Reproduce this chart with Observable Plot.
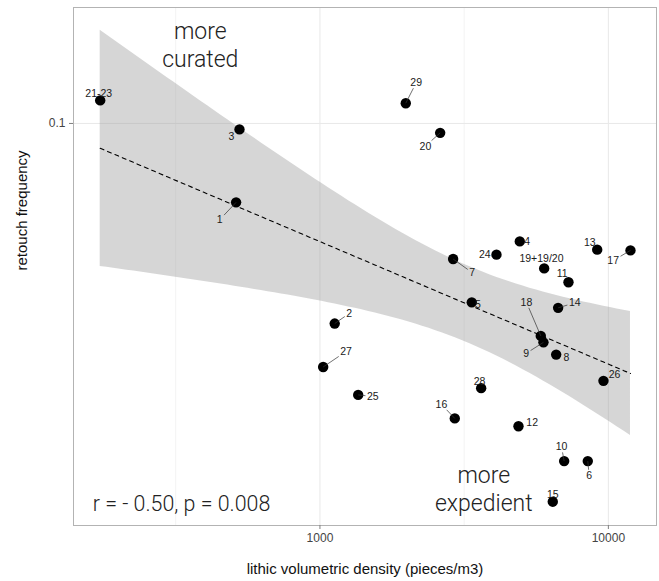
<!DOCTYPE html>
<html><head><meta charset="utf-8">
<script src="https://cdn.jsdelivr.net/npm/d3@7"></script>
<script src="https://cdn.jsdelivr.net/npm/@observablehq/plot@0.6"></script>
<style>body{margin:0;background:#fff} svg{display:block}</style>
</head><body><div id="chart"></div>
<script>
// ---- data ----
const siteLabels = ["21-23","3","1","29","20","2","27","25","4","24","7","13","17","19+19/20","11","5","14","18","9","8","26","28","16","12","10","6","15"];
const density = [173, 526, 512, 1984, 2611, 1125, 1026, 1357, 4930, 4093, 2896, 9147, 11930, 5990, 7272, 3360, 6696, 5830, 5956, 6592, 9616, 3622, 2934, 4879, 7026, 8484, 6416];
const retouch = [0.1117, 0.0972, 0.0685, 0.1102, 0.0956, 0.0383, 0.0311, 0.0272, 0.0568, 0.0533, 0.0522, 0.0546, 0.0544, 0.0499, 0.0467, 0.0424, 0.0413, 0.0361, 0.0350, 0.0330, 0.0291, 0.0281, 0.0243, 0.0234, 0.0198, 0.0198, 0.0163];
// repelled label anchor positions (data units)
const labelDensity = [171, 493, 449, 2156, 2321, 1263, 1232, 1525, 5228, 3727, 3371, 8620, 10390, 5862, 6918, 3526, 7645, 5200, 5188, 7156, 10500, 3574, 2638, 5442, 6880, 8578, 6416];
const labelRetouch = [0.1153, 0.0939, 0.0630, 0.1216, 0.0897, 0.0402, 0.0335, 0.0270, 0.0568, 0.0533, 0.0489, 0.0566, 0.0518, 0.0523, 0.0486, 0.0420, 0.0423, 0.0424, 0.0332, 0.0326, 0.0300, 0.0290, 0.0260, 0.0238, 0.0212, 0.0185, 0.0169];
const xTicks = [1000, 10000];
const xMinorGrid = [316.2, 3162];
const yTicks = [0.1];
const annotations = [
  {text: "more\ncurated", x: 384.6, y: 0.1463},
  {text: "more\nexpedient", x: 3698, y: 0.01739}
];
const statText = {text: "r = - 0.50, p = 0.008", x: 163, y: 0.01611};
const xTitle = "lithic volumetric density (pieces/m3)";
const yTitle = "retouch frequency";

// ---- layout ----
const W = 659, H = 581, ML = 73, MR = 3, MT = 7, MB = 56;
const xDomain = [139.8, 14685], yDomain = [0.01454, 0.1744];
const FONT = "'Liberation Sans', Arial, Helvetica, sans-serif";
const LIGHT = "Roboto, 'Liberation Sans', sans-serif";

const points = siteLabels.map((label, i) => ({label, x: density[i], y: retouch[i], lx: labelDensity[i], ly: labelRetouch[i]}));

// ---- linear fit in log-log space with 95% CI (as geom_smooth(method = "lm")) ----
const LX = density.map(Math.log10), LY = retouch.map(Math.log10);
const n = LX.length;
const mx = d3.mean(LX), my = d3.mean(LY);
const Sxx = d3.sum(LX, v => (v - mx) ** 2);
const Sxy = d3.sum(LX.map((v, i) => (v - mx) * (LY[i] - my)));
const slope = Sxy / Sxx, intercept = my - slope * mx;
const sse = d3.sum(LX.map((v, i) => (LY[i] - (intercept + slope * v)) ** 2));
const se = Math.sqrt(sse / (n - 2));
const tq = 2.0595; // qt(0.975, 25)
const [x0, x1] = d3.extent(LX);
const fit = d3.range(80).map(k => {
  const xv = x0 + (x1 - x0) * k / 79;
  const yv = intercept + slope * xv;
  const h = tq * se * Math.sqrt(1 / n + (xv - mx) ** 2 / Sxx);
  return {x: 10 ** xv, y: 10 ** yv, lo: 10 ** (yv - h), hi: 10 ** (yv + h)};
});

// ---- label leader segments (from point to label box edge) ----
const xs = Plot.scale({x: {type: "log", domain: xDomain, range: [ML, W - MR]}});
const ys = Plot.scale({y: {type: "log", domain: yDomain, range: [H - MB, MT]}});
const LFS = 10.5;
const segs = [];
points.forEach(p => {
  const px = xs.apply(p.x), py = ys.apply(p.y);
  const qx = xs.apply(p.lx), qy = ys.apply(p.ly);
  const vx = px - qx, vy = py - qy;
  const hw = p.label.length * 0.556 * LFS / 2 + 1.5, hh = 5.5;
  const s = Math.min(vx ? hw / Math.abs(vx) : Infinity, vy ? hh / Math.abs(vy) : Infinity);
  if (s >= 1) return;
  const ex = qx + vx * s, ey = qy + vy * s;
  if (Math.hypot(px - ex, py - ey) < 7) return;
  segs.push({x1: p.x, y1: p.y, x2: xs.invert(ex), y2: ys.invert(ey)});
});

const chart = Plot.plot({
  width: W, height: H,
  marginLeft: ML, marginRight: MR, marginTop: MT, marginBottom: MB,
  style: {fontFamily: FONT, background: "#fff", overflow: "visible"},
  x: {type: "log", domain: xDomain},
  y: {type: "log", domain: yDomain},
  marks: [
    Plot.gridX(xMinorGrid, {stroke: "#f3f3f3", strokeOpacity: 1, strokeWidth: 1}),
    Plot.gridX(xTicks, {stroke: "#e8e8e8", strokeOpacity: 1, strokeWidth: 1}),
    Plot.gridY(yTicks, {stroke: "#e8e8e8", strokeOpacity: 1, strokeWidth: 1}),
    Plot.areaY(fit, {x: "x", y1: "lo", y2: "hi", fill: "#999999", fillOpacity: 0.4}),
    Plot.line(fit, {x: "x", y: "y", stroke: "#000", strokeWidth: 1.1, strokeDasharray: "4,4"}),
    Plot.dot(points, {x: "x", y: "y", r: 5.2, fill: "#000", stroke: null}),
    Plot.link(segs, {x1: "x1", y1: "y1", x2: "x2", y2: "y2", stroke: "#333", strokeWidth: 0.7}),
    Plot.text(points, {x: "lx", y: "ly", text: "label", fontSize: LFS, fill: "#1a1a1a"}),
    Plot.text(annotations, {x: "x", y: "y", text: "text", fontSize: 23, lineHeight: 1.2, fill: "#222", lineAnchor: "middle", fontFamily: LIGHT, fontWeight: 300}),
    Plot.text([statText], {x: "x", y: "y", text: "text", fontSize: 21.4, fill: "#222", textAnchor: "start", lineAnchor: "middle", fontFamily: LIGHT, fontWeight: 300}),
    Plot.frame({stroke: "#b3b3b3", strokeWidth: 1}),
    Plot.axisX({ticks: xTicks, tickFormat: d => String(d), tickSize: 4, tickPadding: 4, stroke: "#7f7f7f", fill: "#444", fontSize: 12, label: null}),
    Plot.axisY({ticks: yTicks, tickFormat: d => String(d), tickSize: 4, tickPadding: 4, stroke: "#7f7f7f", fill: "#444", fontSize: 12, label: null}),
    Plot.text([xTitle], {frameAnchor: "bottom", dy: 44, lineAnchor: "middle", fontSize: 15, fill: "#111"}),
    Plot.text([yTitle], {frameAnchor: "left", dx: -51, dy: 4, rotate: -90, lineAnchor: "middle", fontSize: 15, fill: "#111"})
  ]
});
document.getElementById("chart").appendChild(chart);
</script></body></html>
